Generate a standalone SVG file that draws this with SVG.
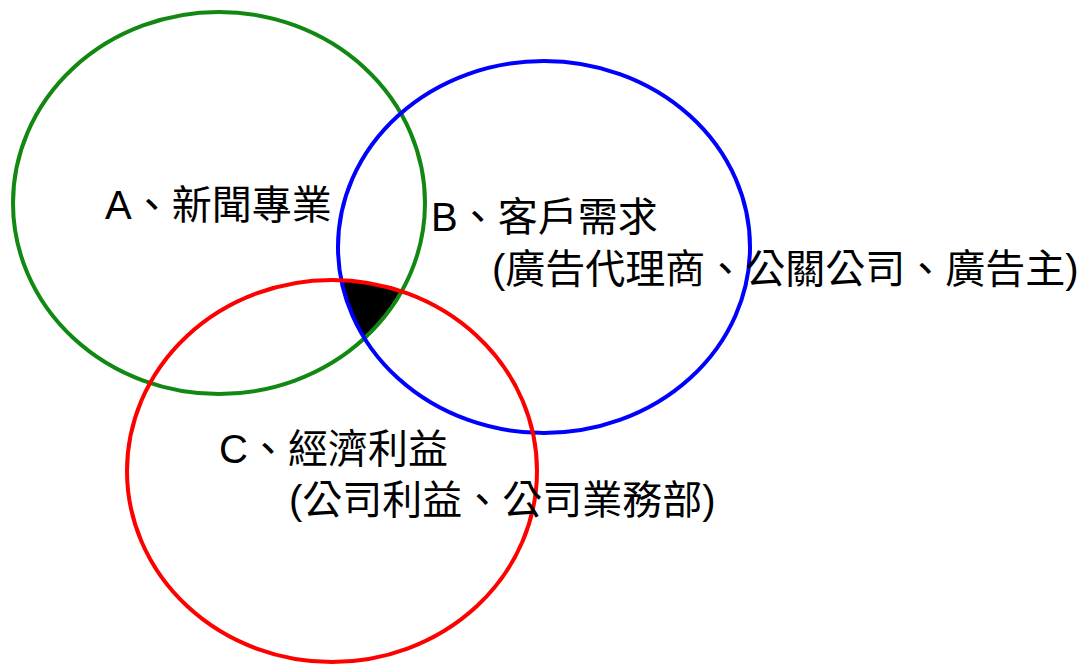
<svg xmlns="http://www.w3.org/2000/svg" width="1083" height="666" viewBox="0 0 1083 666">
  <style>
    .ring { fill: none; stroke-width: 4; }
    .lbl { font-family: "Liberation Sans", "Noto Sans CJK TC", sans-serif; font-size: 40px; fill: #000; }
  </style>
  <defs>
    <clipPath id="clipB"><ellipse cx="544" cy="247" rx="206" ry="186"/></clipPath>
    <clipPath id="clipC"><ellipse cx="332" cy="471" rx="205" ry="191"/></clipPath>
  </defs>
  <rect width="1083" height="666" fill="#fff"/>
  <g id="overlap" clip-path="url(#clipC)">
    <ellipse cx="219" cy="203" rx="206" ry="191" fill="#000" clip-path="url(#clipB)"/>
  </g>
  <g id="nodeA">
    <ellipse class="ring" cx="219" cy="203" rx="206" ry="191" stroke="#118811"/>
    <text class="lbl" x="105" y="219">A、新聞專業</text>
  </g>
  <g id="nodeB">
    <ellipse class="ring" cx="544" cy="247" rx="206" ry="186" stroke="#0000ff"/>
    <text class="lbl" x="431" y="231">B、客戶需求</text>
    <text class="lbl" x="492" y="283">(廣告代理商、公關公司、廣告主)</text>
  </g>
  <g id="nodeC">
    <ellipse class="ring" cx="332" cy="471" rx="205" ry="191" stroke="#ff0000"/>
    <text class="lbl" x="219" y="463">C、經濟利益</text>
    <text class="lbl" x="289" y="514">(公司利益、公司業務部)</text>
  </g>
  <g id="connectors"/>
</svg>
